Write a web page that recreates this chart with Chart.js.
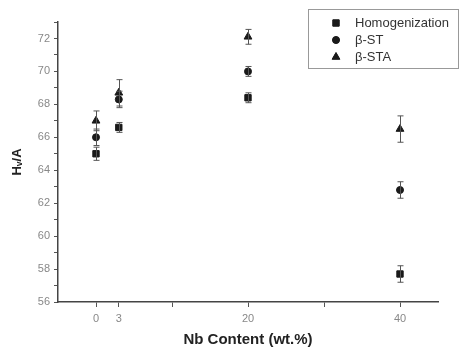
<!DOCTYPE html>
<html><head><meta charset="utf-8">
<script src="https://cdn.jsdelivr.net/npm/chart.js@4/dist/chart.umd.min.js"></script>
<style>html,body{margin:0;padding:0;background:#fff}#wrap{width:463px;height:349px}</style>
</head><body><div id="wrap"><canvas id="c" width="463" height="349"></canvas></div>
<script>
const nbContent = [0, 3, 20, 40];
const homogenization = [65.0, 66.6, 68.4, 57.7];
const homogenizationErr = [0.4, 0.3, 0.3, 0.5];
const betaST = [66.0, 68.3, 70.0, 62.8];
const betaSTErr = [0.5, 0.5, 0.3, 0.5];
const betaSTA = [67.0, 68.7, 72.1, 66.5];
const betaSTAErr = [0.6, 0.8, 0.45, 0.8];
const seriesNames = ['Homogenization', 'β-ST', 'β-STA'];
const xTickValues = [0, 3, 10, 20, 30, 40];
const xTickLabels = ['0', '3', '', '20', '', '40'];
const yMin = 56, yMax = 73;

const ink = '#1a1a1a';
function pts(vals){ return nbContent.map((x,i)=>({x:x,y:vals[i]})); }

const errorBars = {
  id:'errorBars',
  afterDatasetsDraw(chart){
    const ctx = chart.ctx, xs = chart.scales.x, ys = chart.scales.y;
    ctx.save();
    ctx.strokeStyle = '#555'; ctx.lineWidth = 1;
    chart.data.datasets.forEach(ds=>{
      ds.data.forEach((p,i)=>{
        const e = ds.err[i];
        const px = Math.round(xs.getPixelForValue(p.x))+0.5;
        const t = ys.getPixelForValue(p.y+e), b = ys.getPixelForValue(p.y-e);
        ctx.beginPath();
        ctx.moveTo(px,t); ctx.lineTo(px,b);
        ctx.moveTo(px-3,t); ctx.lineTo(px+3,t);
        ctx.moveTo(px-3,b); ctx.lineTo(px+3,b);
        ctx.stroke();
      });
    });
    ctx.restore();
  }
};

const boxLegend = {
  id:'boxLegend',
  afterDraw(chart){
    const ctx = chart.ctx;
    ctx.save();
    ctx.strokeStyle = '#999'; ctx.lineWidth = 1;
    ctx.strokeRect(308.5, 9.5, 150, 59);
    ctx.font = '13px "Liberation Sans", Arial, sans-serif';
    ctx.fillStyle = '#333'; ctx.textBaseline = 'middle';
    const ys = [23, 40, 57];
    chart.data.datasets.forEach((ds,i)=>{
      ctx.fillText(ds.label, 355, ys[i]);
      ctx.fillStyle = ink; ctx.strokeStyle = ink;
      Chart.helpers.drawPoint(ctx, {pointStyle: ds.pointStyle, radius: ds.pointRadius, borderWidth: 1}, 336, ys[i]);
      ctx.fill(); 
      ctx.fillStyle = '#333';
    });
    ctx.restore();
  }
};

Chart.defaults.font.family = '"Liberation Sans", Arial, sans-serif';

new Chart(document.getElementById('c'), {
  type:'scatter',
  data:{ datasets:[
    {label:seriesNames[0], data:pts(homogenization), err:homogenizationErr, pointStyle:'rect', pointRadius:4.5, backgroundColor:ink, borderColor:ink},
    {label:seriesNames[1], data:pts(betaST), err:betaSTErr, pointStyle:'circle', pointRadius:3.5, backgroundColor:ink, borderColor:ink},
    {label:seriesNames[2], data:pts(betaSTA), err:betaSTAErr, pointStyle:'triangle', pointRadius:4.5, backgroundColor:ink, borderColor:ink}
  ]},
  options:{
    responsive:false, animation:false,
    layout:{padding:{top:22, right:25, left:0, bottom:0}},
    plugins:{legend:{display:false}, tooltip:{enabled:false}},
    scales:{
      x:{
        type:'linear', min:-5, max:45,
        afterBuildTicks(s){ s.ticks = xTickValues.map(v=>({value:v})); },
        afterFit(s){ s.height = 47; },
        ticks:{ autoSkip:false, maxRotation:0, padding:5, color:'#888', font:{size:11},
          callback(v){ const i = xTickValues.indexOf(v); return i>=0 ? xTickLabels[i] : ''; } },
        grid:{ drawOnChartArea:false, tickLength:5, color:'#555', tickColor:'#555' },
        border:{ color:'#444', width:1.5 },
        title:{ display:true, text:'Nb Content (wt.%)', color:'#222', font:{size:15, weight:'bold'}, padding:{top:7, bottom:0} }
      },
      y:{
        type:'linear', min:yMin, max:yMax,
        afterBuildTicks(s){ const t=[]; for(let v=yMin; v<=yMax; v++) t.push({value:v}); s.ticks=t; },
        afterFit(s){ s.width = 58; },
        ticks:{ autoSkip:false, padding:4, color:'#888', font:{size:11},
          callback(v){ return (v%2===0) ? String(v) : ''; } },
        grid:{ drawOnChartArea:false, tickLength:4, color:'#555', tickColor:'#555' },
        border:{ color:'#444', width:1.5 },
        title:{ display:true, text:'Hᵥ/A', color:'#222', font:{size:13, weight:'bold'}, padding:{top:10, bottom:8} }
      }
    }
  },
  plugins:[errorBars, boxLegend]
});
</script>
</body></html>
